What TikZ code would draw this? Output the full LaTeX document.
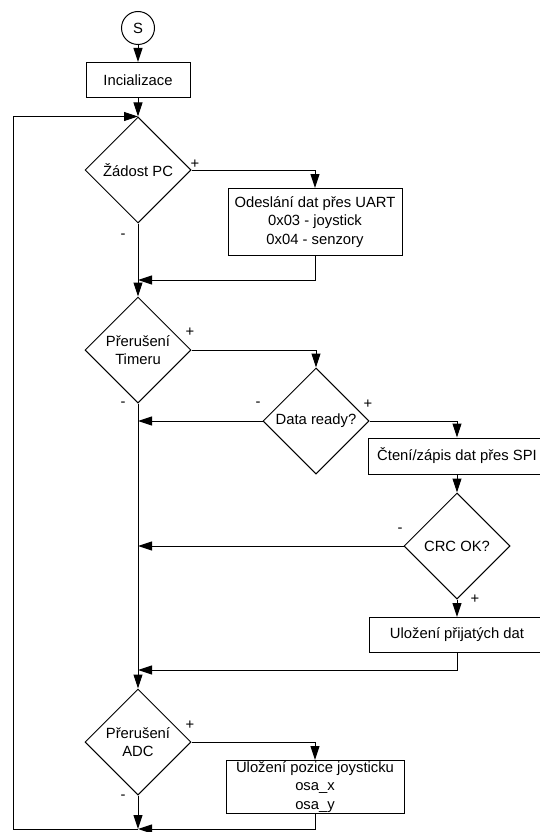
\documentclass[tikz,border=0pt]{standalone}
\usepackage{fontspec}
\setmainfont{Liberation Sans}
\usetikzlibrary{shapes.geometric,arrows.meta}

\tikzset{
  pismo/.style={font=\fontsize{14.8}{18.5}\selectfont},
  blok/.style={draw, pismo, inner sep=0pt, align=center},
  rozh/.style={draw, diamond, pismo, inner sep=0pt, align=center,
    minimum width=106pt, minimum height=106pt},
  sip/.style={-{Triangle[length=14pt,width=9pt]}},
  znak/.style={pismo, inner sep=0pt}
}

\begin{document}
\begin{tikzpicture}[x=1pt,y=-1pt,line width=1pt]
\useasboundingbox (0,0) rectangle (539,832);

% Start a inicializace
\node[draw, circle, pismo, minimum size=33pt, inner sep=0pt] (s) at (138,28) {S};
\node[blok, minimum width=104pt, minimum height=35pt] (init) at (138,80) {Incializace};

% Rozhodovani
\node[rozh] (zadost) at (138,170) {Žádost PC};
\node[rozh] (timer) at (138,350) {Přerušení\\Timeru};
\node[rozh] (ready) at (316,421) {Data ready?};
\node[rozh] (crc) at (457,546) {CRC OK?};
\node[rozh] (adc) at (138,742) {Přerušení\\ADC};

% Bloky
\node[blok, minimum width=174pt, minimum height=67pt] (uart) at (315,222)
  {Odeslání dat přes UART\\0x03 - joystick\\0x04 - senzory};
\node[blok, minimum width=178pt, minimum height=36pt] (spi) at (457,456)
  {Čtení/zápis dat přes SPI};
\node[blok, minimum width=176pt, minimum height=35pt] (store) at (457,635)
  {Uložení přijatých dat};
\node[blok, minimum width=178pt, minimum height=53pt] (joy) at (315,787)
  {Uložení pozice joysticku\\osa\_x\\osa\_y};

% Body spojeni
\coordinate (m1) at (138,280);
\coordinate (m2) at (138,670);
\coordinate (konec) at (138,829);
\coordinate (smycka) at (13,829);

% Spoje
\draw[sip] (s) -- (init);
\draw[sip] (init) -- (zadost);
\draw[sip] (zadost.east) -| (uart.north);
\draw[sip] (zadost.south) -- (timer.north);
\draw[sip] (uart.south) |- (m1);
\draw[sip] (timer.east) -| (ready.north);
\draw[sip] (timer.south) -- (adc.north);
\draw[sip] (ready.west) -- (ready.west -| timer.south);
\draw[sip] (ready.east) -| (spi.north);
\draw[sip] (spi) -- (crc);
\draw[sip] (crc.west) -- (crc.west -| timer.south);
\draw[sip] (crc.south) -- (store.north);
\draw[sip] (store.south) |- (m2);
\draw[sip] (adc.east) -| (joy.north);
\draw[sip] (adc.south) -- (konec);
\draw[sip] (joy.south) |- (konec);
\draw[sip] (konec) -- (smycka) |- (zadost.north);

% Znamenka
\node[znak] (zp) at (195,164) {+};
\node[znak] (zm) at (123,236) {-};
\node[znak] (tp) at (190,332) {+};
\node[znak] (tm) at (123,404) {-};
\node[znak] (rm) at (258,404) {-};
\node[znak] (rp) at (368,404) {+};
\node[znak] (cm) at (400,530) {-};
\node[znak] (cp) at (475,599) {+};
\node[znak] (ap) at (190,725) {+};
\node[znak] (am) at (123,797) {-};

\end{tikzpicture}
\end{document}
